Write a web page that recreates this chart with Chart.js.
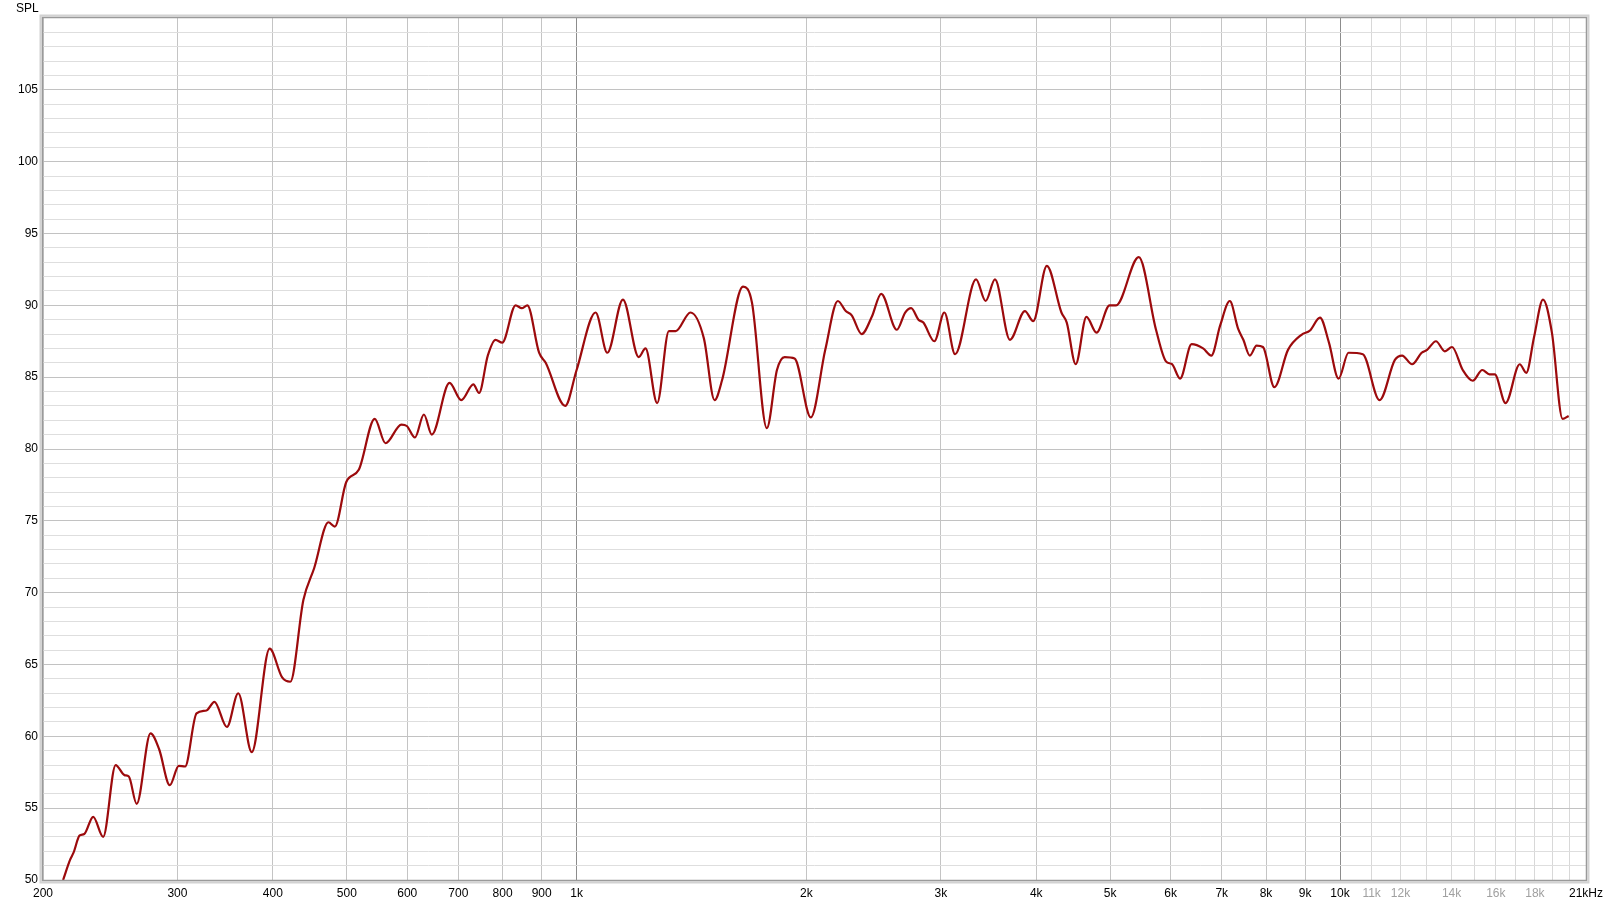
<!DOCTYPE html>
<html>
<head>
<meta charset="utf-8">
<script src="https://cdn.jsdelivr.net/npm/chart.js@4.4.1/dist/chart.umd.min.js"></script>
<style>
  html, body { margin: 0; padding: 0; background: #fff; }
  #wrap { width: 1609px; height: 905px; position: relative; }
</style>
</head>
<body>
<div id="wrap"><canvas id="spl"></canvas></div>
<script>
// frequency response (Hz / dB)
var freqs = [
  212.5, 217, 219.3, 223.4, 226.5, 232.7, 239.8, 249, 255.7, 259.1,
  265.3, 276.6, 283.9, 293.2, 301.2, 307, 317.8, 327.5, 335.4, 348.3,
  360.4, 375.4, 396.2, 411.4, 421.7, 438.7, 453.1, 473.1, 482.3, 499.2,
  518.4, 544, 561.9, 589.6, 599.2, 614.1, 630.9, 646.1, 681.6, 706.2,
  732.5, 745.1, 765, 783, 799, 832, 847.5, 862, 893, 911,
  966, 1000, 1059, 1097, 1150, 1206, 1231, 1275, 1321, 1348,
  1410, 1468, 1516, 1551, 1652, 1697, 1775, 1830, 1873, 1930,
  2027, 2117, 2199, 2252, 2293, 2363, 2436, 2506, 2627, 2694,
  2743, 2804, 2846, 2942, 3032, 3132, 3336, 3434, 3532, 3695,
  3866, 3964, 4130, 4316, 4386, 4506, 4654, 4798, 4991, 5089,
  5450, 5741, 5916, 6025, 6174, 6392, 6617, 6783, 6967, 7172,
  7351, 7471, 7618, 7775, 7926, 8204, 8548, 8904, 9135, 9414,
  9672, 9956, 10260, 10712, 11267, 11800, 12060, 12428, 12794, 13003,
  13356, 13720, 14020, 14480, 14922, 15360, 15696, 15948, 16478, 17196,
  17540, 17956, 18446, 18948, 19568, 19930
];
var spl = [
  50.0, 51.4, 51.9, 53.1, 53.2, 54.4, 53.0, 58.0, 57.3, 57.2,
  55.3, 60.2, 59.1, 56.6, 57.95, 57.9, 61.6, 61.8, 62.4, 60.65,
  63.0, 58.9, 66.1, 64.1, 63.8, 69.5, 71.7, 74.9, 74.6, 77.7,
  78.55, 82.1, 80.4, 81.7, 81.6, 80.8, 82.4, 81.0, 84.6, 83.4,
  84.5, 83.9, 86.5, 87.6, 87.4, 90.0, 89.8, 90.0, 86.7, 86.0,
  83.0, 85.5, 89.5, 86.7, 90.4, 86.4, 87.0, 83.2, 88.2, 88.2,
  89.5, 87.7, 83.4, 84.8, 91.3, 90.2, 81.45, 85.5, 86.4, 86.3,
  82.2, 86.9, 90.3, 89.6, 89.3, 88.0, 89.2, 90.8, 88.3, 89.5,
  89.8, 89.0, 88.8, 87.5, 89.5, 86.6, 91.8, 90.3, 91.8, 87.6,
  89.6, 88.9, 92.75, 89.5, 88.8, 85.9, 89.2, 88.1, 90.0, 90.0,
  93.35, 88.3, 86.1, 85.9, 84.9, 87.3, 87.0, 86.5, 88.6, 90.3,
  88.4, 87.6, 86.5, 87.2, 87.1, 84.3, 86.9, 87.95, 88.25, 89.15,
  87.4, 84.9, 86.7, 86.6, 83.4, 86.2, 86.5, 85.9, 86.7, 86.9,
  87.5, 86.8, 87.1, 85.5, 84.75, 85.5, 85.2, 85.2, 83.2, 85.9,
  85.3, 87.8, 90.4, 88.1, 82.1, 82.3
];

// x grid lines and their labels
var xTicks = [200, 300, 400, 500, 600, 700, 800, 900, 1000,
  2000, 3000, 4000, 5000, 6000, 7000, 8000, 9000, 10000,
  11000, 12000, 13000, 14000, 15000, 16000, 17000, 18000, 19000, 20000, 21000];
var xLabels = {
  200: '200', 300: '300', 400: '400', 500: '500', 600: '600', 700: '700',
  800: '800', 900: '900', 1000: '1k', 2000: '2k', 3000: '3k', 4000: '4k',
  5000: '5k', 6000: '6k', 7000: '7k', 8000: '8k', 9000: '9k', 10000: '10k',
  11000: '11k', 12000: '12k', 14000: '14k', 16000: '16k', 18000: '18k',
  21000: '21kHz'
};
var yMin = 50, yMax = 110, yStep = 1, yLabelEvery = 5;

var points = freqs.map(function (f, i) { return { x: f, y: spl[i] }; });

// frame around the plot area
var framePlugin = {
  id: 'frame',
  afterDatasetsDraw: function (chart) {
    var a = chart.chartArea, c = chart.ctx;
    c.save();
    c.strokeStyle = '#d2d2d2';
    c.lineWidth = 2;
    c.strokeRect(a.left - 2.5, a.top - 2.5, a.right - a.left + 5, a.bottom - a.top + 5);
    c.strokeStyle = '#9a9a9a';
    c.lineWidth = 1.5;
    c.strokeRect(a.left - 0.5, a.top - 0.5, a.right - a.left + 1, a.bottom - a.top + 1);
    c.restore();
  }
};

var font = { family: "'Liberation Sans', Arial, sans-serif", size: 12, weight: 'normal' };

new Chart(document.getElementById('spl'), {
  type: 'line',
  data: {
    datasets: [{
      label: 'SPL',
      data: points,
      borderColor: '#9c0a0c',
      borderWidth: 2.2,
      pointRadius: 0,
      fill: false,
      cubicInterpolationMode: 'monotone'
    }]
  },
  options: {
    responsive: true,
    maintainAspectRatio: false,
    animation: false,
    layout: { padding: { left: 16, right: 21, top: 0, bottom: 0 } },
    plugins: {
      legend: { display: false },
      tooltip: { enabled: false },
      title: {
        display: true,
        text: 'SPL',
        align: 'start',
        color: '#000',
        font: font,
        padding: { top: 1, bottom: 2.6 }
      }
    },
    scales: {
      x: {
        type: 'logarithmic',
        min: 200,
        max: 21000,
        afterBuildTicks: function (scale) {
          scale.ticks = xTicks.map(function (v) { return { value: v }; });
        },
        afterFit: function (scale) { scale.height = 25; },
        border: { display: false },
        grid: {
          drawTicks: false,
          lineWidth: 1,
          color: function (ctx) {
            var v = ctx.tick ? ctx.tick.value : 0;
            if (v === 1000 || v === 10000) return '#8c8c8c';
            if (v >= 21000) return 'rgba(0,0,0,0)';
            if (v > 10000) return '#d8d8d8';
            return '#c4c4c4';
          }
        },
        ticks: {
          autoSkip: false,
          maxRotation: 0,
          padding: 6,
          font: font,
          color: function (ctx) {
            var v = ctx.tick ? ctx.tick.value : 0;
            return (v > 10000 && v < 21000) ? '#a0a0a0' : '#000';
          },
          callback: function (value) {
            return xLabels[value] || '';
          }
        }
      },
      y: {
        type: 'linear',
        min: yMin,
        max: yMax,
        afterFit: function (scale) { scale.width = 27; },
        border: { display: false },
        grid: {
          drawTicks: false,
          lineWidth: 1,
          color: function (ctx) {
            var v = ctx.tick ? ctx.tick.value : 0;
            if (v === yMin || v === yMax) return 'rgba(0,0,0,0)';
            return v % yLabelEvery === 0 ? '#c2c2c2' : '#dedede';
          }
        },
        ticks: {
          stepSize: yStep,
          autoSkip: false,
          padding: 5,
          font: font,
          color: '#000',
          callback: function (value) {
            return (value % yLabelEvery === 0 && value < yMax) ? String(value) : '';
          }
        }
      }
    }
  },
  plugins: [framePlugin]
});
</script>
</body>
</html>
